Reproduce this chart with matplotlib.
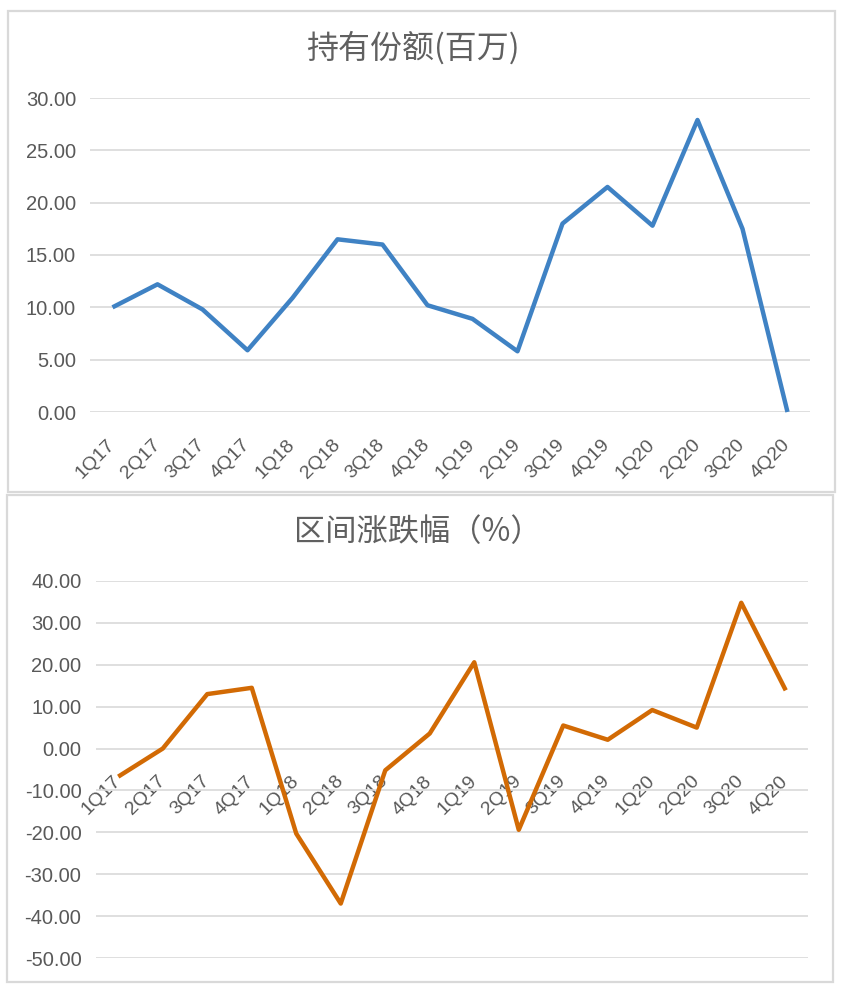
import matplotlib
matplotlib.use('Agg')
import matplotlib.pyplot as plt
import matplotlib.transforms as mtrans
from matplotlib.patches import Rectangle


W, H = 848, 992
TEXT_COLOR = '#595959'
GRID_COLOR = '#d9d9d9'

plt.rcParams['font.family'] = ['Liberation Sans', 'Noto Sans CJK SC', 'DejaVu Sans']

quarters = ['1Q17', '2Q17', '3Q17', '4Q17', '1Q18', '2Q18', '3Q18', '4Q18',
            '1Q19', '2Q19', '3Q19', '4Q19', '1Q20', '2Q20', '3Q20', '4Q20']

# 持有份额 (百万)
holding = [10.0, 12.2, 9.8, 5.9, 10.9, 16.5, 16.0, 10.2,
           8.9, 5.8, 18.0, 21.5, 17.8, 27.9, 17.5, 0.0]

# 区间涨跌幅 (%)
change = [-6.7, 0.0, 13.0, 14.5, -20.3, -37.0, -5.2, 3.6,
          20.6, -19.4, 5.5, 2.1, 9.2, 5.0, 34.8, 13.9]

top_ticks = [0, 5, 10, 15, 20, 25, 30]
bottom_ticks = [-50, -40, -30, -20, -10, 0, 10, 20, 30, 40]


# convert pixel box to figure coords
def px_box(x0, y0, x1, y1):
    return [x0 / W, 1 - y1 / H, (x1 - x0) / W, (y1 - y0) / H]


def add_frame(fig, x0, y0, x1, y1):
    l, b, w, h = px_box(x0, y0, x1, y1)
    fig.patches.append(Rectangle((l, b), w, h, transform=fig.transFigure,
                                 fill=False, edgecolor=GRID_COLOR, linewidth=1.6))


def style_axes(fig, ax, ticks, ypad):
    # labels sit at the zero line (set this first, it resets the ticks)
    ax.spines['bottom'].set_position(('data', 0))
    for s in ax.spines.values():
        s.set_visible(False)
    ax.set_xlim(-0.5, len(quarters) - 0.5)
    ax.set_yticks(ticks)
    ax.set_yticklabels(['{:.2f}'.format(t) for t in ticks])
    ax.set_ylim(ticks[0], ticks[-1])
    ax.grid(axis='y', color=GRID_COLOR, linewidth=1.2)
    ax.set_axisbelow(True)
    ax.tick_params(axis='y', length=0, pad=ypad, labelsize=14.5, labelcolor=TEXT_COLOR)
    ax.tick_params(axis='x', length=0, pad=24, labelsize=14, labelcolor=TEXT_COLOR)
    ax.set_xticks(range(len(quarters)))
    ax.set_xticklabels(quarters, rotation=45, ha='right', va='baseline',
                       rotation_mode='anchor')
    # nudge the rotated labels a little to the right
    shift = mtrans.ScaledTranslation(3 / 100, 0, fig.dpi_scale_trans)
    for lab in ax.get_xticklabels():
        lab.set_transform(lab.get_transform() + shift)


fig = plt.figure(figsize=(W / 100, H / 100), dpi=100)
fig.patch.set_facecolor('white')

add_frame(fig, 8, 11, 835, 492)
add_frame(fig, 7, 495, 833, 982)

ax1 = fig.add_axes(px_box(90, 98, 810, 412))
ax1.plot(range(len(quarters)), holding, color='#3f82c4', linewidth=3.2,
         solid_joinstyle='round', solid_capstyle='butt', clip_on=False)
style_axes(fig, ax1, top_ticks, 10)

ax2 = fig.add_axes(px_box(96, 581, 808, 958))
ax2.plot(range(len(quarters)), change, color='#d26a04', linewidth=3.2,
         solid_joinstyle='round', solid_capstyle='butt', clip_on=False)
style_axes(fig, ax2, bottom_ticks, 10.5)

fig.text(413 / W, 1 - 48 / H, '持有份额(百万)', ha='center', va='center',
         fontsize=23, color='#606060', fontweight='light',
         family=['Noto Sans CJK SC', 'DejaVu Sans'])
fig.text(418 / W, 1 - 532 / H, '区间涨跌幅（%）', ha='center', va='center',
         fontsize=22.5, color='#606060', fontweight='light',
         family=['Noto Sans CJK SC', 'DejaVu Sans'])

fig.savefig('out.png', dpi=100)
